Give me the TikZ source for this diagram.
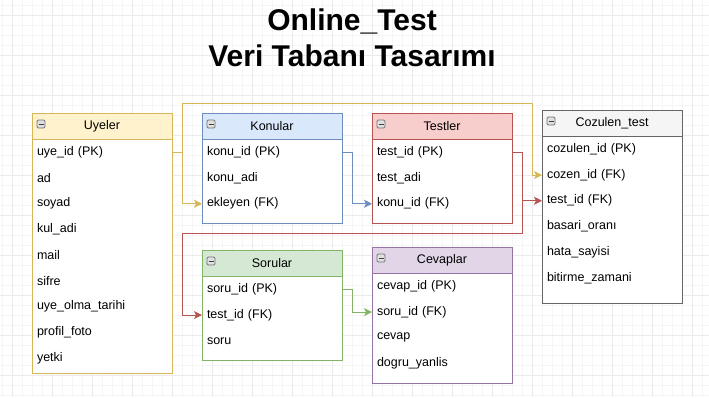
\documentclass[tikz,border=0pt]{standalone}
\usepackage{fontspec}
\setmainfont{Liberation Sans}
\usepackage{tikz}
\usetikzlibrary{arrows.meta}

\definecolor{sariC}{HTML}{D6B656}\definecolor{sariD}{HTML}{FFF2CC}
\definecolor{maviC}{HTML}{6C8EBF}\definecolor{maviD}{HTML}{DAE8FC}
\definecolor{kirmiziC}{HTML}{B85450}\definecolor{kirmiziD}{HTML}{F8CECC}
\definecolor{yesilC}{HTML}{82B366}\definecolor{yesilD}{HTML}{D5E8D4}
\definecolor{morC}{HTML}{9673A6}\definecolor{morD}{HTML}{E1D5E7}
\definecolor{griC}{HTML}{666666}\definecolor{griD}{HTML}{F5F5F5}

\tikzset{
  tablobas/.style={anchor=north west,minimum width=140pt,minimum height=26pt,
    inner sep=0pt,outer sep=0pt,line width=1pt,font=\fontsize{12.5}{15}\selectfont},
  satir/.style={anchor=west,text width=130pt,align=left,inner xsep=5pt,inner ysep=0pt,
    minimum height=25.7pt,outer sep=0pt,font=\fontsize{12.5}{15}\selectfont},
  kutu/.style={draw=black!55,fill=black!12,rounded corners=1.2pt,line width=0.8pt},
  bag/.style={line width=1pt,-{Stealth[length=8pt,width=8pt,inset=2pt]}},
  baslik/.style={anchor=base,font=\bfseries\fontsize{30}{36}\selectfont},
}

% tablo: #1 ad, #2 x, #3 ust, #4 alt, #5 dolgu, #6 cizgi, #7 baslik, #8 satirlar
\newcommand{\tablo}[8]{%
  \draw[#6,fill=white,line width=1pt] (#2,#3) rectangle (#2+140,#4);
  \node[tablobas,fill=#5,draw=#6] (#1) at (#2,#3) {#7};
  \draw[kutu] (#2+5,#3+7) rectangle (#2+13,#3+15);
  \draw[line width=1pt,black!75] (#2+6.5,#3+11) -- (#2+11.5,#3+11);
  \foreach \s [count=\i] in {#8}
    \node[satir] (#1-\i) at (#2,{#3+26.5+(\i-0.5)*25.7}) {\s};
}

\begin{document}
\begin{tikzpicture}[x=1pt,y=-1pt]
  \useasboundingbox (0,0) rectangle (709,397);
  \fill[white] (0,0) rectangle (709,397);
  % arka plan izgarasi
  \foreach \x in {2,12,...,702} \draw[black!4,line width=0.7pt] (\x,0) -- (\x,397);
  \foreach \y in {5,15,...,395} \draw[black!4,line width=0.7pt] (0,\y) -- (709,\y);
  \foreach \x in {12,52,...,692} \draw[black!8,line width=0.7pt] (\x,0) -- (\x,397);
  \foreach \y in {15,55,...,375} \draw[black!8,line width=0.7pt] (0,\y) -- (709,\y);

  \node[baslik] (baslik1) at (352,30) {Online\_Test};
  \node[baslik] (baslik2) at (352,66) {Veri Tabanı Tasarımı};

  \tablo{uyeler}{32}{113}{373}{sariD}{sariC}{Uyeler}
    {uye\_id (PK),ad,soyad,kul\_adi,mail,sifre,uye\_olma\_tarihi,profil\_foto,yetki}
  \tablo{konular}{202}{113}{223}{maviD}{maviC}{Konular}
    {konu\_id (PK),konu\_adi,ekleyen (FK)}
  \tablo{testler}{372}{113}{223}{kirmiziD}{kirmiziC}{Testler}
    {test\_id (PK),test\_adi,konu\_id (FK)}
  \tablo{cozulen}{542}{110}{303}{griD}{griC}{Cozulen\_test}
    {cozulen\_id (PK),cozen\_id (FK),test\_id (FK),basari\_oranı,hata\_sayisi,bitirme\_zamani}
  \tablo{sorular}{202}{250}{360}{yesilD}{yesilC}{Sorular}
    {soru\_id (PK),test\_id (FK),soru}
  \tablo{cevaplar}{372}{247}{383}{morD}{morC}{Cevaplar}
    {cevap\_id (PK),soru\_id (FK),cevap,dogru\_yanlis}

  % bag hatlari
  \coordinate (ust) at (532,103);
  \coordinate (orta) at (182,233);
  \draw[bag,sariC] (uyeler-1.east) -| ([xshift=-20pt]konular-3.west) -- (konular-3.west);
  \draw[bag,sariC] ([xshift=10pt]uyeler-1.east) |- (ust) |- (cozulen-2.west);
  \draw[bag,maviC] (konular-1.east) -| ([xshift=-20pt]testler-3.west) -- (testler-3.west);
  \draw[bag,kirmiziC] (testler-1.east) -| ([xshift=-20pt]cozulen-3.west) -- (cozulen-3.west);
  \draw[bag,kirmiziC] ([xshift=10pt]testler-1.east) |- (orta) |- (sorular-2.west);
  \draw[bag,yesilC] (sorular-1.east) -| ([xshift=-20pt]cevaplar-2.west) -- (cevaplar-2.west);
\end{tikzpicture}
\end{document}
